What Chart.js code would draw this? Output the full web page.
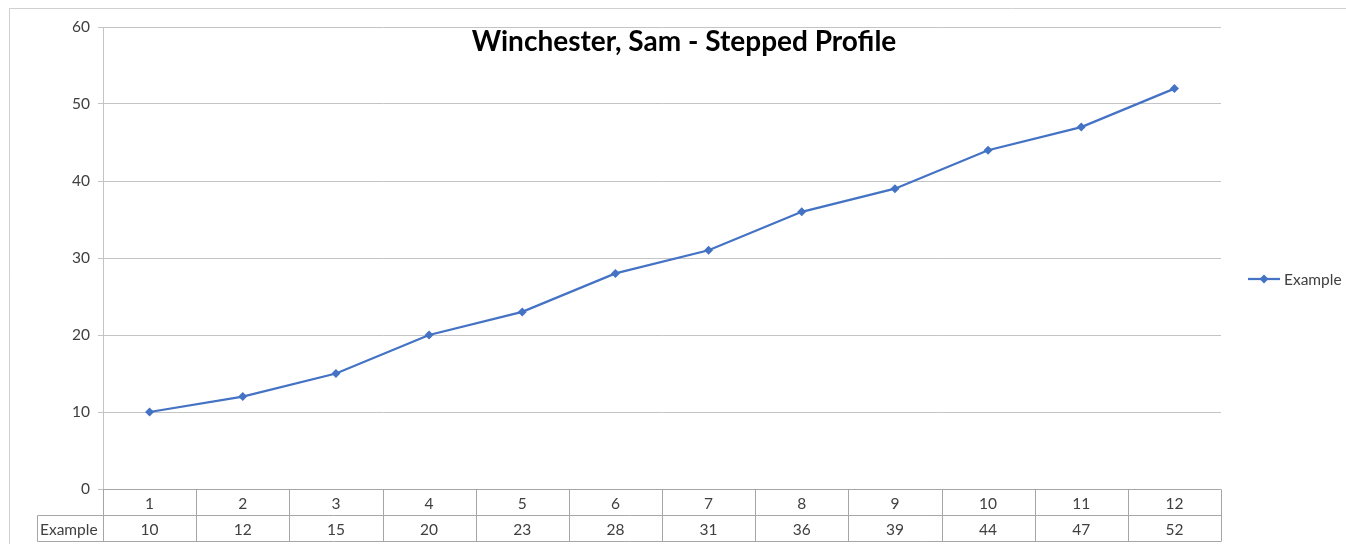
<!DOCTYPE html>
<html><head><meta charset="utf-8">
<script src="https://cdn.jsdelivr.net/npm/chart.js@4"></script>
<style>html,body{margin:0;padding:0;background:#fff;}#wrap{width:1346px;height:544px;position:relative;}</style>
</head><body><div id="wrap"><canvas id="c" width="1346" height="544"></canvas></div>
<script>
const categories = ["1","2","3","4","5","6","7","8","9","10","11","12"];
const seriesName = "Example";
const values = [10,12,15,20,23,28,31,36,39,44,47,52];
const yTicks = [0,10,20,30,40,50,60];
const titleText = "Winchester, Sam - Stepped Profile";

const FONT = "Lato, 'Open Sans', sans-serif";
const LINE = "#4472C4";
const GRID = "#c4c4c4";
const TABLE = "#a6a6a6";
const TXT = 15.5;

const extras = {
  id: 'extras',
  beforeDraw(chart) {
    const ctx = chart.ctx;
    ctx.save();
    ctx.fillStyle = '#fff';
    ctx.fillRect(0,0,chart.width,chart.height);
    ctx.strokeStyle = '#d0d0d0';
    ctx.lineWidth = 1;
    ctx.beginPath();
    ctx.moveTo(9.5, 560); ctx.lineTo(9.5, 8.5); ctx.lineTo(1400, 8.5);
    ctx.stroke();
    ctx.restore();
  },
  afterDraw(chart) {
    const ctx = chart.ctx;
    const xs = chart.scales.x;
    const ca = chart.chartArea;
    const n = categories.length;
    const step = (ca.right - ca.left) / n;
    const top = Math.round(ca.bottom) + 0.5;
    const rowH = 26;
    const mid = top + rowH;
    const bot = top + 2 * rowH;
    const headLeft = 37.5;
    ctx.save();
    ctx.strokeStyle = TABLE;
    ctx.lineWidth = 1;
    ctx.beginPath();
    ctx.moveTo(ca.left, top); ctx.lineTo(ca.right, top);
    ctx.moveTo(headLeft, mid); ctx.lineTo(ca.right, mid);
    ctx.moveTo(headLeft, bot); ctx.lineTo(ca.right, bot);
    ctx.moveTo(headLeft, mid); ctx.lineTo(headLeft, bot);
    for (let i = 0; i <= n; i++) {
      const x = Math.round(ca.left + i * step) + 0.5;
      ctx.moveTo(x, top); ctx.lineTo(x, bot);
    }
    ctx.stroke();
    ctx.fillStyle = '#404040';
    ctx.font = TXT + "px " + FONT;
    ctx.textAlign = 'center';
    ctx.textBaseline = 'middle';
    for (let i = 0; i < n; i++) {
      const x = xs.getPixelForValue(i);
      ctx.fillText(categories[i], x, top + rowH / 2 + 1);
      ctx.fillText(String(values[i]), x, mid + rowH / 2 + 1);
    }
    ctx.textAlign = 'left';
    ctx.fillText(seriesName, 40, mid + rowH / 2 + 1);
    // title
    ctx.fillStyle = '#000';
    ctx.font = "bold 28px " + FONT;
    ctx.textAlign = 'center';
    ctx.fillText(titleText, 684, 42);
    // legend
    const ly = 279;
    ctx.strokeStyle = LINE;
    ctx.lineWidth = 2.25;
    ctx.beginPath(); ctx.moveTo(1248, ly); ctx.lineTo(1280, ly); ctx.stroke();
    ctx.fillStyle = LINE;
    ctx.beginPath();
    ctx.moveTo(1264, ly - 4.5); ctx.lineTo(1268.5, ly); ctx.lineTo(1264, ly + 4.5); ctx.lineTo(1259.5, ly); ctx.closePath();
    ctx.fill();
    ctx.fillStyle = '#404040';
    ctx.font = TXT + "px " + FONT;
    ctx.textAlign = 'left';
    ctx.fillText(seriesName, 1284, ly + 1);
    ctx.restore();
  }
};

new Chart(document.getElementById('c'), {
  type: 'line',
  data: {
    labels: categories,
    datasets: [{
      label: seriesName,
      data: values,
      borderColor: LINE,
      backgroundColor: LINE,
      borderWidth: 2.25,
      pointStyle: 'rectRot',
      pointRadius: 4.5,
      pointBorderWidth: 0,
      tension: 0
    }]
  },
  options: {
    responsive: false,
    animation: false,
    devicePixelRatio: 1,
    layout: { padding: { left: 0, top: 27, right: 125, bottom: 55 } },
    plugins: { legend: { display: false }, title: { display: false }, tooltip: { enabled: false } },
    scales: {
      x: {
        type: 'category',
        offset: true,
        display: false
      },
      y: {
        min: 0, max: 60,
        afterBuildTicks(scale) { scale.ticks = yTicks.map(v => ({ value: v })); },
        afterFit(scale) { scale.width = 103; },
        grid: { color: GRID, tickLength: 5, drawTicks: true, tickColor: GRID },
        border: { display: true, color: GRID },
        ticks: { color: '#404040', font: { family: FONT, size: TXT }, padding: 8 }
      }
    }
  },
  plugins: [extras]
});
</script>
</body></html>
